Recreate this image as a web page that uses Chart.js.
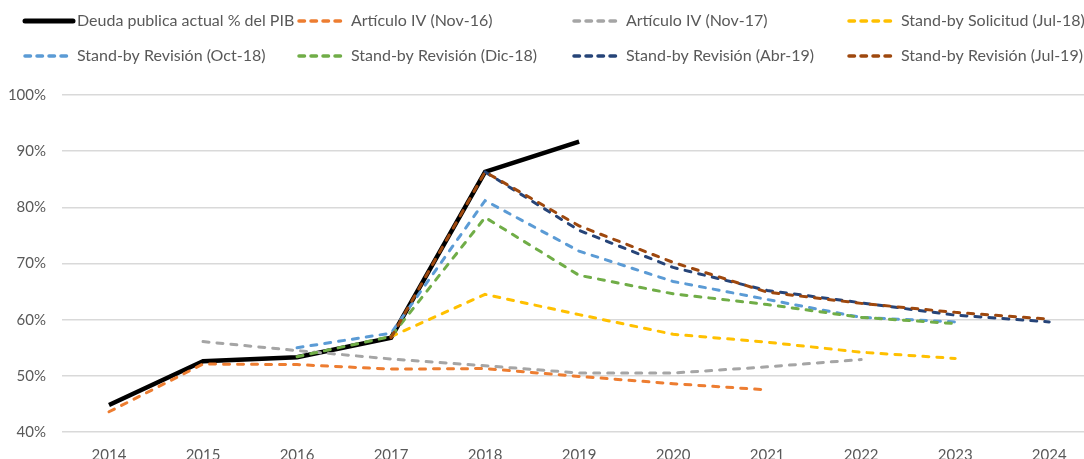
<!DOCTYPE html>
<html>
<head>
<meta charset="utf-8">
<script src="https://cdn.jsdelivr.net/npm/chart.js@4/dist/chart.umd.min.js"></script>
<style>
  body { margin: 0; background: #fff; overflow: hidden; }
</style>
</head>
<body>
<canvas id="deudaChart" width="1084" height="459"></canvas>
<script>
// años del eje x
var years = [2014, 2015, 2016, 2017, 2018, 2019, 2020, 2021, 2022, 2023, 2024];

// deuda publica en % del PIB
var actual = [44.8, 52.6, 53.3, 56.8, 86.3, 91.7, null, null, null, null, null];
var nov16  = [43.6, 52.1, 52.0, 51.2, 51.3, 49.9, 48.6, 47.5, null, null, null];
var nov17  = [null, 56.1, 54.5, 53.0, 51.8, 50.5, 50.5, 51.6, 52.9, null, null];
var jul18  = [null, null, null, 57.0, 64.5, 60.9, 57.4, 56.0, 54.2, 53.1, null];
var oct18  = [null, null, 55.0, 57.6, 81.2, 72.2, 66.8, 63.6, 60.4, 59.6, null];
var dic18  = [null, null, 53.4, 57.0, 78.2, 67.9, 64.6, 62.7, 60.4, 59.3, null];
var abr19  = [null, null, null, null, 86.3, 75.9, 69.3, 65.2, 63.0, 60.8, 59.6];
var jul19  = [null, null, null, 56.8, 86.3, 76.7, 70.2, 64.9, 62.9, 61.3, 60.1];

var yTicks = [40, 50, 60, 70, 80, 90, 100];

function pts(arr) {
  return arr.map(function (v, i) { return { x: years[i], y: v }; });
}

function dashed(label, arr, color, order) {
  return {
    label: label,
    data: pts(arr),
    borderColor: color,
    backgroundColor: color,
    borderWidth: 3,
    borderDash: [6, 8],
    borderCapStyle: 'round',
    pointRadius: 0,
    tension: 0,
    order: order
  };
}

// leyenda en 4 columnas como en el original
var legendCols = [23, 297, 572, 847];
var legendRows = [21, 56];

var gridLegend = {
  id: 'gridLegend',
  afterDraw: function (chart) {
    var ctx = chart.ctx;
    ctx.save();
    ctx.font = '16px Lato';
    ctx.fillStyle = '#595959';
    ctx.textBaseline = 'middle';
    chart.data.datasets.forEach(function (ds, i) {
      var x = legendCols[i % 4];
      var y = legendRows[Math.floor(i / 4)];
      ctx.beginPath();
      ctx.strokeStyle = ds.borderColor;
      if (ds.borderDash) {
        ctx.lineWidth = 3.5;
        ctx.lineCap = 'round';
        ctx.setLineDash([5.5, 6.5]);
        ctx.moveTo(x + 2, y);
        ctx.lineTo(x + 50, y);
      } else {
        ctx.lineWidth = 5;
        ctx.lineCap = 'round';
        ctx.setLineDash([]);
        ctx.moveTo(x + 2, y);
        ctx.lineTo(x + 50, y);
      }
      ctx.stroke();
      ctx.setLineDash([]);
      ctx.fillText(ds.label, x + 54, y);
    });
    ctx.restore();
  }
};

Chart.defaults.font.family = 'Lato';
Chart.defaults.font.size = 15;
Chart.defaults.color = '#595959';

var ctx = document.getElementById('deudaChart');
var myChart = new Chart(ctx, {
  type: 'line',
  data: {
    datasets: [
      {
        label: 'Deuda publica actual % del PIB',
        data: pts(actual),
        borderColor: '#000000',
        backgroundColor: '#000000',
        borderWidth: 4.5,
        pointRadius: 0,
        tension: 0,
        order: 9
      },
      dashed('Artículo IV (Nov-16)', nov16, '#ED7D31', 7),
      dashed('Artículo IV (Nov-17)', nov17, '#A5A5A5', 6),
      dashed('Stand-by Solicitud (Jul-18)', jul18, '#FFC000', 5),
      dashed('Stand-by Revisión (Oct-18)', oct18, '#5B9BD5', 4),
      dashed('Stand-by Revisión (Dic-18)', dic18, '#70AD47', 3),
      dashed('Stand-by Revisión (Abr-19)', abr19, '#264478', 2),
      dashed('Stand-by Revisión (Jul-19)', jul19, '#9E480E', 1)
    ]
  },
  options: {
    responsive: false,
    animation: false,
    layout: { padding: { top: 95, left: 0, right: 0, bottom: 0 } },
    plugins: {
      legend: { display: false },
      tooltip: { enabled: false }
    },
    scales: {
      x: {
        type: 'linear',
        min: 2013.5,
        max: 2024.37,
        grid: { display: false },
        border: { display: false },
        afterBuildTicks: function (scale) {
          scale.ticks = years.map(function (y) { return { value: y }; });
        },
        afterFit: function (scale) { scale.height = 27; },
        ticks: {
          padding: 6,
          maxRotation: 0,
          font: { size: 15 },
          callback: function (v) { return String(v); }
        }
      },
      y: {
        min: 40,
        max: 100,
        grid: { color: '#D9D9D9', lineWidth: 1.5, drawTicks: false },
        border: { display: false },
        afterBuildTicks: function (scale) {
          scale.ticks = yTicks.map(function (v) { return { value: v }; });
        },
        afterFit: function (scale) { scale.width = 62; },
        ticks: {
          padding: 16,
          font: { size: 15 },
          callback: function (v) { return v + '%'; }
        }
      }
    }
  },
  plugins: [gridLegend]
});
</script>
</body>
</html>
